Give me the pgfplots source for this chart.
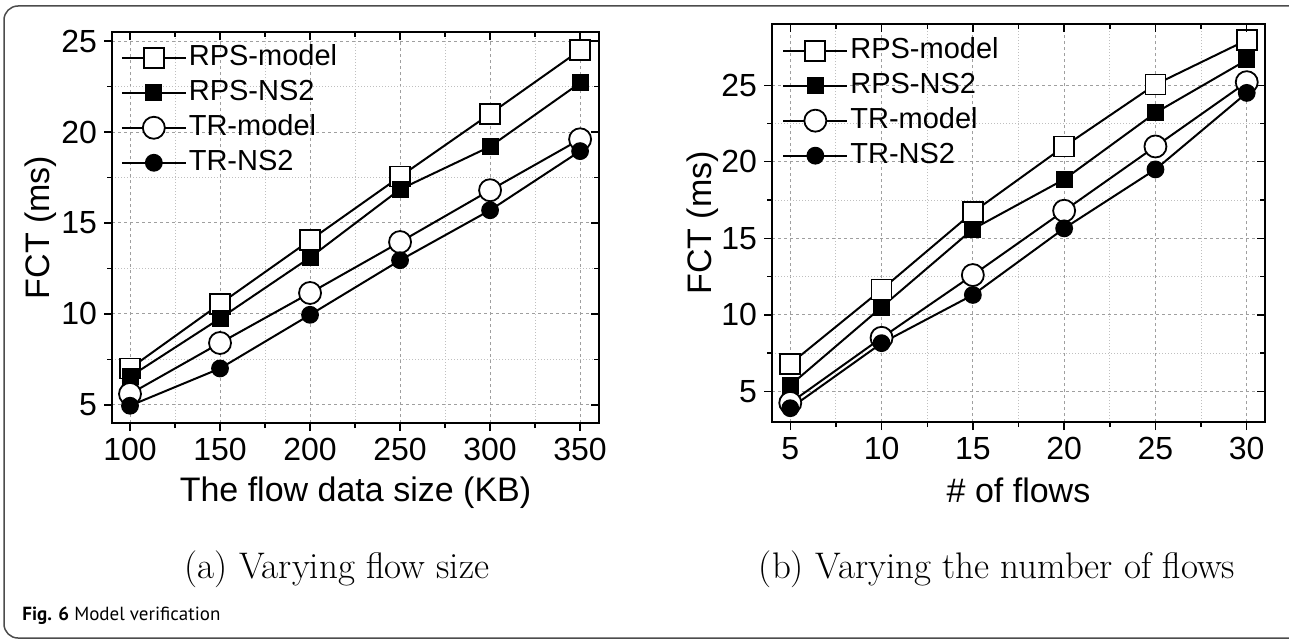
\documentclass[border=0pt]{standalone}
\usepackage{fontspec}
\usepackage{pgfplots}
\pgfplotsset{compat=1.18}
\newfontfamily\arial{Liberation Sans}
\newfontfamily\ptsans{PT Sans}
\pgfplotsset{
  base/.style={
    scale only axis,
    anchor=south west,
    axis line style={line width=0.8pt},
    minor x tick num=1, minor y tick num=1,
    major tick length=4pt, minor tick length=2.5pt,
    every tick/.style={black, line width=0.7pt},
    /pgf/number format/assume math mode=true,
    tick label style={font=\arial\fontsize{16pt}{18pt}\selectfont, black},
  },
  main/.style={base,
    xtick pos=left, ytick pos=left, tick align=outside,
    grid=both,
    major grid style={gray!75, dash pattern=on 1.5pt off 1.5pt, line width=0.5pt},
    minor grid style={gray!50, dash pattern=on 0.5pt off 1pt, line width=0.5pt},
    label style={font=\arial\fontsize{17pt}{19pt}\selectfont},
    xlabel style={at={(axis description cs:0.5,-0.202)}, anchor=base},
    legend style={draw=none, fill=none, anchor=north west,
      font=\arial\fontsize{14.5pt}{16pt}\selectfont, row sep=2pt,
      nodes={inner sep=1pt, text height=10.5pt, text depth=3pt}},
    legend cell align=left,
    legend image code/.code={\draw[mark repeat=2,mark phase=2] plot coordinates {(0pt,0pt) (16pt,0pt) (32pt,0pt)};},
  },
  mirror/.style={base, xtick pos=right, ytick pos=right, tick align=inside,
    xticklabels={}, yticklabels={}},
  leftlim/.style={xmin=90, xmax=360.5, ymin=4, ymax=25.5,
    xtick={100,150,...,350}, ytick={5,10,...,25},
    at={(56pt,108pt)}, width=243.5pt, height=195.5pt},
  rightlim/.style={xmin=4, xmax=31, ymin=3, ymax=29,
    xtick={5,10,...,30}, ytick={5,10,...,25},
    at={(386pt,108.5pt)}, width=246.5pt, height=199pt},
  rpsm/.style={black, line width=1pt, mark=square*, mark size=5pt, mark options={fill=white, line width=0.9pt, solid}},
  rpsn/.style={black, line width=1pt, mark=square*, mark size=3.8pt, mark options={fill=black, line width=0.9pt, solid}},
  trm/.style={black, line width=1pt, mark=*, mark size=5.5pt, mark options={fill=white, line width=0.9pt, solid}},
  trn/.style={black, line width=1pt, mark=*, mark size=4pt, mark options={fill=black, line width=0.9pt, solid}},
}
\begin{document}
\begin{tikzpicture}
\useasboundingbox (0,0) rectangle (644.5pt,319.5pt);
\draw[gray!60!black, line width=0.75pt, rounded corners=7pt] (2pt,0.5pt) rectangle (655pt,316.5pt);

% ---------- (a) ----------
\begin{axis}[main, leftlim,
  xlabel={The flow data size (KB)}, ylabel={FCT (ms)},
  ylabel style={at={(axis description cs:-0.129,0.5)}, anchor=base},
  legend style={at={(0.005,0.985)}}]
\addplot[rpsm] coordinates {(100,7.0)(150,10.55)(200,14.05)(250,17.55)(300,21.0)(350,24.5)};
\addlegendentry{RPS-model}
\addplot[rpsn] coordinates {(100,6.55)(150,9.75)(200,13.1)(250,16.85)(300,19.2)(350,22.7)};
\addlegendentry{RPS-NS2}
\addplot[trm] coordinates {(100,5.6)(150,8.4)(200,11.15)(250,13.95)(300,16.8)(350,19.6)};
\addlegendentry{TR-model}
\addplot[trn] coordinates {(100,4.95)(150,7.0)(200,9.95)(250,12.95)(300,15.7)(350,18.95)};
\addlegendentry{TR-NS2}
\end{axis}
\begin{axis}[mirror, leftlim]
\end{axis}

% ---------- (b) ----------
\begin{axis}[main, rightlim,
  xlabel={\# of flows}, ylabel={FCT (ms)},
  ylabel style={at={(axis description cs:-0.122,0.5)}, anchor=base},
  legend style={at={(0.008,0.983)}}]
\addplot[rpsm] coordinates {(5,6.8)(10,11.65)(15,16.7)(20,21.0)(25,25.05)(30,27.95)};
\addlegendentry{RPS-model}
\addplot[rpsn] coordinates {(5,5.4)(10,10.5)(15,15.6)(20,18.85)(25,23.2)(30,26.65)};
\addlegendentry{RPS-NS2}
\addplot[trm] coordinates {(5,4.25)(10,8.5)(15,12.6)(20,16.8)(25,21.0)(30,25.2)};
\addlegendentry{TR-model}
\addplot[trn] coordinates {(5,3.9)(10,8.15)(15,11.3)(20,15.65)(25,19.5)(30,24.5)};
\addlegendentry{TR-NS2}
\end{axis}
\begin{axis}[mirror, rightlim]
\end{axis}

\node[anchor=base, font=\fontsize{18.5pt}{22pt}\selectfont, inner sep=0pt] at (168.5pt,30.5pt) {(a) Varying flow size};
\node[anchor=base, font=\fontsize{18.5pt}{22pt}\selectfont, inner sep=0pt] at (498.5pt,30.5pt) {(b) Varying the number of flows};
\node[anchor=base west, font=\ptsans\fontsize{9.5pt}{11pt}\selectfont, inner sep=0pt] at (11pt,9.5pt) {\textbf{Fig. 6} Model verification};
\end{tikzpicture}
\end{document}
